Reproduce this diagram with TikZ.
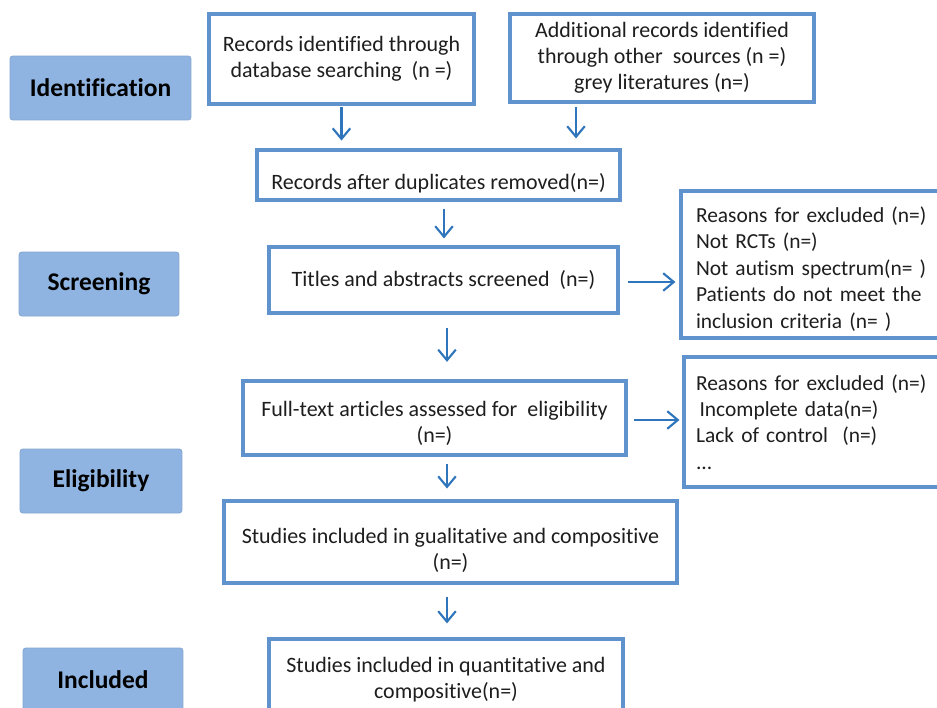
\documentclass[tikz,border=0pt]{standalone}
\usepackage{fontspec}
\setmainfont{Carlito}[Ligatures={NoCommon,NoRequired,NoContextual},Contextuals=NoAlternate]
\usetikzlibrary{arrows.meta}

\definecolor{stagefill}{RGB}{143,180,225}
\definecolor{boxline}{RGB}{96,146,206}
\definecolor{arrowblue}{RGB}{46,117,188}
\definecolor{textgray}{RGB}{30,30,30}

% pushes the text block of a box a little down
\newcommand{\padtop}[1]{\rule{0pt}{#1}}

\begin{document}
\begin{tikzpicture}[x=0.02cm,y=-0.02cm,>={Straight Barb[length=6pt,width=10pt]},
  stage/.style={fill=stagefill,draw=stagefill!92!black,rounded corners=1.5pt,
    minimum width=3.2cm,minimum height=1.28cm,font=\fontsize{14.5}{17}\selectfont\bfseries},
  flowbox/.style={draw=boxline,line width=1.8pt,fill=white,align=center,text=textgray,
    font=\fontsize{12.5}{14.7}\selectfont},
  reasonbox/.style={flowbox,align=left,text width=5cm,inner xsep=0.3cm,
    font=\fontsize{12.2}{15}\selectfont},
  flow/.style={->,draw=arrowblue,line width=1.2pt}]

\clip (0,0) rectangle (937,707);
\fill[white] (0,0) rectangle (937,707);

% === Stages ===
\node[stage,minimum width=3.62cm] (ident) at (100.5,88) {Identification};
\node[stage] (screen) at (99,284) {Screening};
\node[stage,minimum width=3.24cm] (elig) at (101,481) {Eligibility};
\node[stage] (incl) at (103,680) {Included};

% === Main flow ===
\node[flowbox,minimum width=5.3cm,minimum height=1.8cm] (dbsearch) at (341.5,59)
  {Records identified through\\database searching\ \ (n =)};
\node[flowbox,minimum width=6.08cm,minimum height=1.76cm] (other) at (662,58)
  {Additional records identified\\through other\ \ sources (n =)\\grey literatures (n=)};
\node[flowbox,minimum width=7.26cm,minimum height=1cm] (dedup) at (438.5,175)
  {\padtop{18.5pt}Records after duplicates removed(n=)};
\node[flowbox,minimum width=6.98cm,minimum height=1.32cm] (titles) at (443.5,280)
  {Titles and abstracts screened\ \ (n=)};
\node[flowbox,minimum width=7.66cm,minimum height=1.48cm] (fulltext) at (434.5,418)
  {\padtop{15pt}Full-text articles assessed for\ \ eligibility\\(n=)};
\node[flowbox,minimum width=9.06cm,minimum height=1.64cm] (qual) at (450.5,542)
  {\padtop{18pt}Studies included in gualitative and compositive\\(n=)};
\node[flowbox,minimum width=7.08cm,minimum height=1.64cm] (quant) at (446,680)
  {Studies included in quantitative and\\compositive(n=)};

% === Exclusions ===
\node[reasonbox,minimum height=2.94cm] (excl1) at (821,264.5)
  {\padtop{14pt}Reasons for excluded (n=)\\Not RCTs (n=)\\Not autism spectrum(n= )\\Patients do not meet the\\inclusion criteria (n= )};
\node[reasonbox,inner xsep=0.24cm,minimum height=2.6cm] (excl2) at (821,422)
  {Reasons for excluded (n=)\\\hspace{2pt}Incomplete data(n=)\\Lack of control\ \ (n=)\\...};

% === Arrows ===
\draw[flow,shorten <=1pt,shorten >=4.5pt] (dbsearch.south) -- (dbsearch.south |- dedup.north);
\draw[flow,shorten <=1.7pt,shorten >=5.7pt] ([xshift=-1.72cm]other.south) -- ([xshift=-1.72cm]other.south |- dedup.north);
\draw[flow,shorten <=4pt,shorten >=4pt] ([xshift=0.11cm]dedup.south) -- ([xshift=0.11cm]dedup.south |- titles.north);
\draw[flow,shorten <=5pt,shorten >=2.3pt] ([yshift=-0.04cm]titles.east) -- ([yshift=-0.04cm]titles.east -| excl1.west);
\draw[flow,shorten <=7.4pt,shorten >=10pt] ([xshift=0.07cm]titles.south) -- ([xshift=0.07cm]titles.south |- fulltext.north);
\draw[flow,shorten <=3.4pt,shorten >=1.7pt] ([yshift=-0.04cm]fulltext.east) -- ([yshift=-0.04cm]fulltext.east -| excl2.west);
\draw[flow,shorten <=4pt,shorten >=6.2pt] ([xshift=0.25cm]fulltext.south) -- ([xshift=0.25cm]fulltext.south |- qual.north);
\draw[flow,shorten <=6.8pt,shorten >=8pt] ([xshift=-0.07cm]qual.south) -- ([xshift=-0.07cm]qual.south |- quant.north);
\end{tikzpicture}
\end{document}
